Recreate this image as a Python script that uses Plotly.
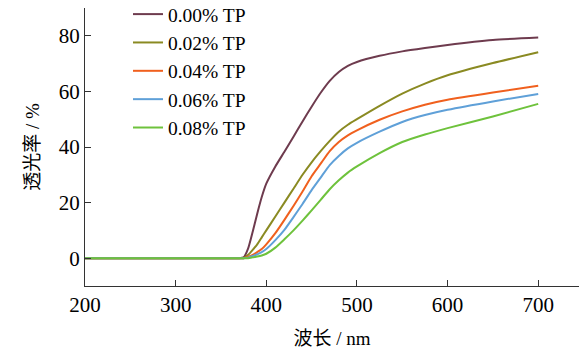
import plotly.graph_objects as go

wavelength = [200, 300, 370, 375, 380, 385, 390, 395, 400, 410, 420, 430, 440, 450,
              460, 470, 480, 490, 500, 525, 550, 575, 600, 650, 700]

tp_000 = [0, 0, 0, 0.3, 3.5, 9.5, 16, 22, 26.8, 33, 38.3, 43.7, 49.2, 54.5,
          59.5, 63.8, 67, 69.2, 70.6, 72.8, 74.4, 75.6, 76.7, 78.5, 79.4]
tp_002 = [0, 0, 0, 0, 1.2, 3, 5, 7.5, 10, 15, 20, 25, 30, 34.5,
          38.5, 42.2, 45.5, 48, 50, 54.8, 59.2, 62.8, 65.8, 70.2, 74.1]
tp_004 = [0, 0, 0, 0, 0.5, 1.2, 2.2, 3.3, 5, 9, 13.8, 18.8, 24, 29.5,
          34, 38.5, 41.8, 44.2, 46, 49.8, 52.8, 55.2, 57, 59.6, 62]
tp_006 = [0, 0, 0, 0, 0.2, 0.8, 1.4, 2.2, 3.3, 6.5, 10.2, 14.8, 19.5, 24.5,
          29, 33.5, 36.8, 39.5, 41.5, 45.5, 49, 51.5, 53.4, 56.4, 59.1]
tp_008 = [0, 0, 0, 0, 0, 0.3, 0.6, 1, 1.6, 3.8, 6.8, 10, 13.5, 17.2,
          21, 24.8, 28, 30.8, 33, 37.8, 41.8, 44.5, 46.8, 51, 55.5]

names = ["0.00% TP", "0.02% TP", "0.04% TP", "0.06% TP", "0.08% TP"]
colors = ["#6E3B4E", "#8A8A22", "#F0601E", "#5FA0D8", "#6EC23C"]
series = [tp_000, tp_002, tp_004, tp_006, tp_008]

x_ticks = [200, 300, 400, 500, 600, 700]
y_ticks = [0, 20, 40, 60, 80]

font_family = "Liberation Serif, Noto Sans CJK SC, serif"

fig = go.Figure()
for name, color, ys in zip(names, colors, series):
    fig.add_trace(go.Scatter(x=wavelength, y=ys, mode="lines", name=name,
                             line=dict(color=color, width=2, shape="spline", smoothing=0.5)))

fig.update_layout(
    width=579, height=352,
    margin=dict(l=85, r=0, t=8, b=66, autoexpand=False),
    paper_bgcolor="white", plot_bgcolor="white",
    font=dict(family=font_family, size=21, color="black"),
    showlegend=True,
    legend=dict(x=0.087, y=1.047, xanchor="left", yanchor="top",
                bgcolor="rgba(0,0,0,0)", font=dict(size=19.5),
                tracegroupgap=0, itemwidth=30),
)
fig.update_xaxes(range=[200, 745], tickvals=x_ticks, ticks="inside", ticklen=6,
                 showline=True, linecolor="#333", linewidth=1.3, tickcolor="#333",
                 showgrid=False, zeroline=False, automargin=False,
                 title=dict(text="波长 / nm", standoff=15, font=dict(size=19)))
fig.update_yaxes(range=[-10, 90], tickvals=y_ticks, ticks="inside", ticklen=6,
                 showline=True, linecolor="#333", linewidth=1.3, tickcolor="#333",
                 showgrid=False, zeroline=False, automargin=False,
                 title=dict(text="透光率 / %", standoff=14, font=dict(size=19)))

fig.write_html("out.html", config={"displayModeBar": False},
               post_script="document.body.style.margin='0';")
